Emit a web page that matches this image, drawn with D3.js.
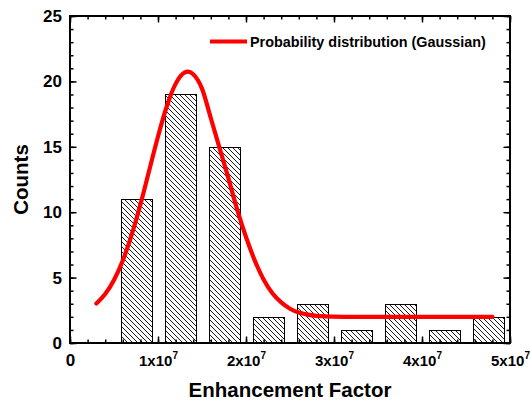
<!DOCTYPE html>
<html>
<head>
<meta charset="utf-8">
<script src="https://cdn.jsdelivr.net/npm/d3@7"></script>
<style>
  body { margin: 0; background: #fff; }
  svg { font-family: "Liberation Sans", Arial, sans-serif; font-weight: bold; }
  .axis path, .axis line { stroke: #000; }
</style>
</head>
<body>
<script>
// histogram data (bin centres in units of 1e7)
var binCenters = [0.75, 1.25, 1.75, 2.25, 2.75, 3.25, 3.75, 4.25, 4.75];
var counts = [11, 19, 15, 2, 3, 1, 3, 1, 2];

// fitted gaussian
var curveX = [0.3, 0.4, 0.5, 0.6, 0.7, 0.8, 0.9, 1.0, 1.1, 1.2, 1.3, 1.34, 1.4, 1.5, 1.6, 1.7, 1.8, 1.9, 2.0, 2.1, 2.2, 2.3, 2.4, 2.5, 2.6, 2.7, 2.8, 2.9, 3.0, 3.2, 4.8];
var curveY = [3.02, 3.74, 4.82, 6.31, 8.26, 10.59, 13.19, 15.79, 18.10, 19.81, 20.67, 20.74, 20.55, 19.45, 17.2, 14.9, 12.6, 10.2, 8.1, 6.3, 4.85, 3.8, 3.1, 2.62, 2.33, 2.17, 2.08, 2.04, 2.02, 2.0, 2.0];

var xTicks = [0, 1, 2, 3, 4, 5];
var yTicks = [0, 5, 10, 15, 20, 25];
var legendLabel = "Probability distribution (Gaussian)";

var W = 530, H = 403;
var pL = 70, pR = 510, pT = 16, pB = 343;
var barWidth = 0.35;

var svg = d3.select("body").append("svg")
	.attr("width", W)
	.attr("height", H);

// hatch pattern
var defs = svg.append("defs");
var pat = defs.append("pattern")
	.attr("id", "hatch")
	.attr("patternUnits", "userSpaceOnUse")
	.attr("width", 5)
	.attr("height", 5);
pat.append("rect").attr("width", 5).attr("height", 5).attr("fill", "#fff");
pat.append("path")
	.attr("d", "M-1,-1 L6,6 M-1,4 L1,6 M4,-1 L6,1")
	.attr("stroke", "#000")
	.attr("stroke-width", 0.9);

var x = d3.scaleLinear().domain([0, 5]).range([pL, pR]);
var y = d3.scaleLinear().domain([0, 25]).range([pB, pT]);

// bars
svg.selectAll(".bar")
	.data(counts)
	.enter().append("rect")
	.attr("class", "bar")
	.attr("x", function(d, i) { return Math.round(x(binCenters[i] - barWidth / 2)) + 0.5; })
	.attr("width", function(d, i) { return Math.round(x(barWidth) - x(0)); })
	.attr("y", function(d) { return Math.round(y(d)) + 0.5; })
	.attr("height", function(d) { return pB - Math.round(y(d)); })
	.attr("fill", "url(#hatch)")
	.attr("stroke", "#000")
	.attr("stroke-width", 1);

// gaussian curve
var pts = curveX.map(function(v, i) { return [v, curveY[i]]; });
var line = d3.line()
	.x(function(d) { return x(d[0]); })
	.y(function(d) { return y(d[1]); })
	.curve(d3.curveMonotoneX);

svg.append("path")
	.datum(pts)
	.attr("d", line)
	.attr("fill", "none")
	.attr("stroke", "#ff0000")
	.attr("stroke-width", 4.2)
	.attr("stroke-linecap", "round");

// minor ticks
var xMinor = d3.range(0, 5.0001, 0.2);
var yMinor = d3.range(0, 25.0001, 1);

function minor(axis, vals, tx, ty) {
	svg.append("g")
		.attr("class", "axis")
		.attr("transform", "translate(" + tx + "," + ty + ")")
		.call(axis.tickValues(vals).tickSize(-3.5).tickFormat(""))
		.call(function(g) { g.select(".domain").remove(); g.selectAll("line").attr("stroke-width", 1.5); });
}
minor(d3.axisBottom(x), xMinor, 0, pB);
minor(d3.axisTop(x), xMinor, 0, pT);
minor(d3.axisLeft(y), yMinor, pL, 0);
minor(d3.axisRight(y), yMinor, pR, 0);

// major ticks, bottom
var xAxis = svg.append("g")
	.attr("class", "axis")
	.attr("transform", "translate(0," + pB + ")")
	.call(d3.axisBottom(x).tickValues(xTicks).tickSize(-6.5).tickPadding(11).tickFormat(""));
xAxis.selectAll("line").attr("stroke-width", 1.5);
xAxis.select(".domain").remove();
xAxis.selectAll(".tick text").each(function(d) {
	var t = d3.select(this)
		.attr("fill", "#000")
		.attr("font-size", d === 0 ? 17 : 15)
		.attr("dy", d === 0 ? "0.71em" : "0.78em");
	if (d === 0) { t.text("0"); return; }
	t.append("tspan").text(d + "x10");
	t.append("tspan").attr("font-size", 10).attr("dy", -7).text("7");
});

// major ticks, left
var yAxis = svg.append("g")
	.attr("class", "axis")
	.attr("transform", "translate(" + pL + ",0)")
	.call(d3.axisLeft(y).tickValues(yTicks).tickSize(-6.5).tickPadding(8));
yAxis.selectAll("line").attr("stroke-width", 1.5);
yAxis.select(".domain").remove();
yAxis.selectAll("text").attr("font-size", 17).attr("fill", "#000");

// top / right major ticks
var topAxis = svg.append("g")
	.attr("class", "axis")
	.attr("transform", "translate(0," + pT + ")")
	.call(d3.axisTop(x).tickValues(xTicks).tickSize(-6.5).tickFormat(""));
topAxis.select(".domain").remove();
topAxis.selectAll("line").attr("stroke-width", 1.5);

var rightAxis = svg.append("g")
	.attr("class", "axis")
	.attr("transform", "translate(" + pR + ",0)")
	.call(d3.axisRight(y).tickValues(yTicks).tickSize(-6.5).tickFormat(""));
rightAxis.select(".domain").remove();
rightAxis.selectAll("line").attr("stroke-width", 1.5);

// frame
svg.append("rect")
	.attr("x", pL)
	.attr("y", pT)
	.attr("width", pR - pL)
	.attr("height", pB - pT)
	.attr("fill", "none")
	.attr("stroke", "#000")
	.attr("stroke-width", 2);

// legend
svg.append("line")
	.attr("x1", 210).attr("x2", 247)
	.attr("y1", 41.5).attr("y2", 41.5)
	.attr("stroke", "#ff0000")
	.attr("stroke-width", 4);
svg.append("text")
	.attr("x", 250)
	.attr("y", 46.5)
	.attr("font-size", 14.4)
	.text(legendLabel);

// axis titles
svg.append("text")
	.attr("text-anchor", "middle")
	.attr("x", (pL + pR) / 2)
	.attr("y", 397)
	.attr("font-size", 20.5)
	.text("Enhancement Factor");

svg.append("text")
	.attr("text-anchor", "middle")
	.attr("transform", "translate(27.5," + ((pT + pB) / 2) + ")rotate(-90)")
	.attr("font-size", 20.5)
	.text("Counts");
</script>
</body>
</html>
